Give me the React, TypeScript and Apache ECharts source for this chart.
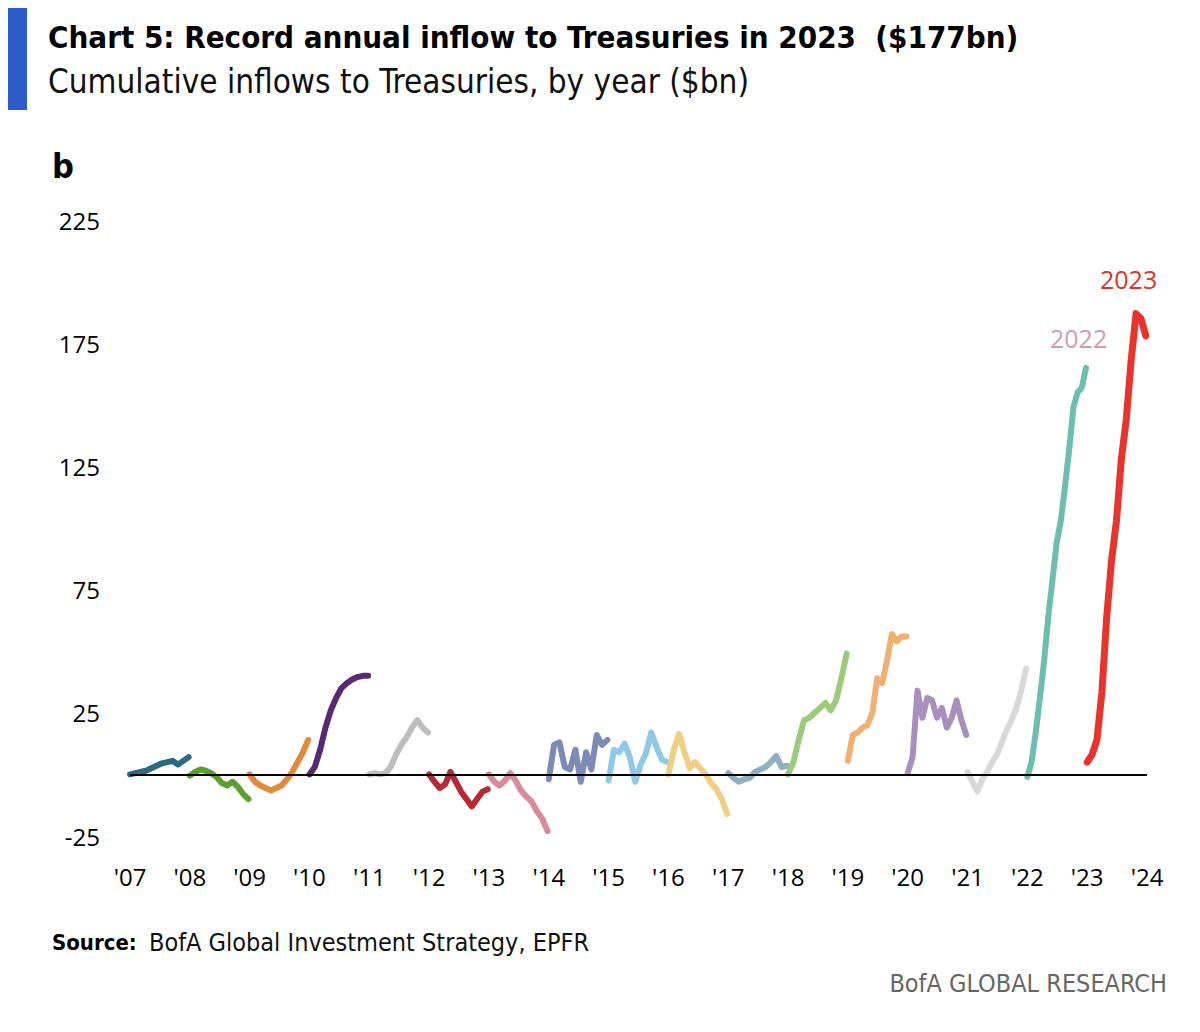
import React, { useEffect, useRef } from "react";
import * as echarts from "echarts";

const tickLabels = ["'07", "'08", "'09", "'10", "'11", "'12", "'13", "'14", "'15", "'16", "'17", "'18", "'19", "'20", "'21", "'22", "'23", "'24"];
const yTicks = [-25, 25, 75, 125, 175, 225];

const y2007 = [0, 0.5, 1, 1.5, 2.5, 3.5, 4.5, 5, 5.5, 4, 5.5, 7];
const y2008 = [-0.5, 1, 2, 1.5, 0.5, -1, -3.5, -4.5, -3, -5, -8, -10];
const y2009 = [0, -3, -4.5, -5.5, -6.5, -5.5, -4.5, -2, 1, 5, 9, 14];
const y2010 = [0, 3, 10, 19, 26, 31, 35, 37, 38.5, 39.5, 40, 40];
const y2011 = [0, 0.5, 0, 0.5, 3, 8, 12, 15, 19, 22, 19, 17];
const y2012 = [0, -3, -5.5, -4, 1, -3, -7, -10, -13, -10, -7, -6];
const y2013 = [0, -3, -4.5, -2.5, 0.5, -2.5, -6.5, -9, -11, -15, -18, -23];
const y2014 = [-2, 12, 13, 3, 2, 10, -3, 9, 2, 16, 12, 14];
const y2015 = [-2.5, 10, 9, 12.5, 7, -3, 4, 8.5, 17, 11, 6, 5];
const y2016 = [0, 10, 16.5, 9, 2.5, 5, 2.5, 0, -3.5, -6, -10, -16];
const y2017 = [0.5, -1.5, -3, -2, -1.5, 1, 2, 3, 5, 7.5, 3, 3.5];
const y2018 = [0, 5, 14, 22, 23, 25, 27, 29, 26, 30, 39, 49];
const y2019 = [5.5, 16, 17, 19, 20, 25, 39, 37, 46, 57, 54, 56, 56];
const y2020 = [0.5, 7, 34, 23, 31, 30, 23, 27, 19, 23, 30, 22, 16];
const y2021 = [1, -3, -7, -2, 1, 5, 8, 13, 18, 22, 27, 34, 43];
const y2022 = [-1, 5, 17, 31, 46, 64, 79, 94, 103, 117, 132, 149, 155, 157, 165];
const y2023 = [5, 8, 14, 33, 64, 87, 103, 128, 144, 168, 187, 185, 178];

const yearSeries = [y2007, y2008, y2009, y2010, y2011, y2012, y2013, y2014, y2015, y2016, y2017, y2018, y2019, y2020, y2021, y2022, y2023];
const startYears = [2007, 2008, 2009, 2010, 2011, 2012, 2013, 2014, 2015, 2016, 2017, 2018, 2019, 2020, 2021, 2022, 2023];
const colors = ["#2b6a80", "#5aa02c", "#e08a3a", "#5a2a70", "#bdbdbd", "#b52a35", "#d98a9c", "#7b8bb5", "#8ec9e8", "#f0d080", "#8fb0c0", "#9ccc7a", "#f0b070", "#a88fc0", "#d8d8d8", "#6cbfae", "#e8342a"];

const FONT = "'Open Sans', sans-serif";
const COND = "'DejaVu Sans Condensed', 'Open Sans', sans-serif";

export default function App() {
  const ref = useRef<HTMLDivElement>(null);
  useEffect(() => {
    if (!ref.current) return;
    const chart = echarts.init(ref.current, null, { renderer: "svg" });
    const series: any[] = yearSeries.map((vals, i) => ({
      type: "line",
      name: String(startYears[i]),
      data: vals.map((v, k) => [startYears[i] + (k / (vals.length - 1)) * 0.98, v]),
      showSymbol: false,
      smooth: false,
      z: 3,
      lineStyle: { color: colors[i], width: i === 16 ? 7 : 6, cap: "round", join: "round" },
      silent: true,
    }));
    series.push({
      type: "line",
      data: [],
      markLine: {
        silent: true,
        symbol: "none",
        label: { show: false },
        lineStyle: { color: "#000", width: 2, type: "solid" },
        data: [{ yAxis: 0 }],
      },
      z: 2,
    });
    chart.setOption({
      animation: false,
      backgroundColor: "#fff",
      grid: { left: 130, right: 53, top: 220, bottom: 196 },
      xAxis: {
        type: "value",
        min: 2007,
        max: 2024,
        interval: 1,
        axisLine: { show: false },
        axisTick: { show: false },
        splitLine: { show: false },
        axisLabel: {
          margin: 28,
          fontSize: 24,
          fontFamily: FONT,
          color: "#000",
          formatter: (v: number) => tickLabels[Math.round(v) - 2007],
        },
      },
      yAxis: {
        type: "value",
        min: -25,
        max: 225,
        interval: 50,
        axisLine: { show: false },
        axisTick: { show: false },
        splitLine: { show: false },
        axisLabel: {
          margin: 30,
          fontSize: 24,
          fontFamily: FONT,
          color: "#000",
          formatter: (v: number) => (yTicks.includes(v) ? String(v) : ""),
        },
      },
      series,
      graphic: [
        { type: "rect", left: 8, top: 8, shape: { width: 19, height: 102 }, style: { fill: "#2b5cc8" } },
        {
          type: "text", left: 48, top: 21,
          style: { text: "Chart 5: Record annual inflow to Treasuries in 2023  ($177bn)", font: `bold 31px ${COND}`, fill: "#000" },
        },
        {
          type: "text", left: 48, top: 65,
          style: { text: "Cumulative inflows to Treasuries, by year ($bn)", font: `33px ${COND}`, fill: "#111" },
        },
        { type: "text", left: 52, top: 149, style: { text: "b", font: `bold 34px ${COND}`, fill: "#000" } },
        { type: "text", left: 1050, top: 325, style: { text: "2022", font: `25px ${FONT}`, fill: "#d69aa8" } },
        { type: "text", left: 1100, top: 266, style: { text: "2023", font: `25px ${FONT}`, fill: "#d8342a" } },
        {
          type: "text", left: 52, top: 931,
          style: { text: "Source:", font: `bold 22px ${COND}`, fill: "#000" },
        },
        {
          type: "text", left: 149, top: 930,
          style: { text: "BofA Global Investment Strategy, EPFR", font: `25px ${COND}`, fill: "#111" },
        },
        {
          type: "text", right: 33, top: 971,
          style: { text: "BofA GLOBAL RESEARCH", font: `25px ${COND}`, fill: "#666" },
        },
      ],
    });
    return () => chart.dispose();
  }, []);
  return <div ref={ref} style={{ position: "fixed", left: 0, top: 0, width: 1200, height: 1032 }} />;
}
